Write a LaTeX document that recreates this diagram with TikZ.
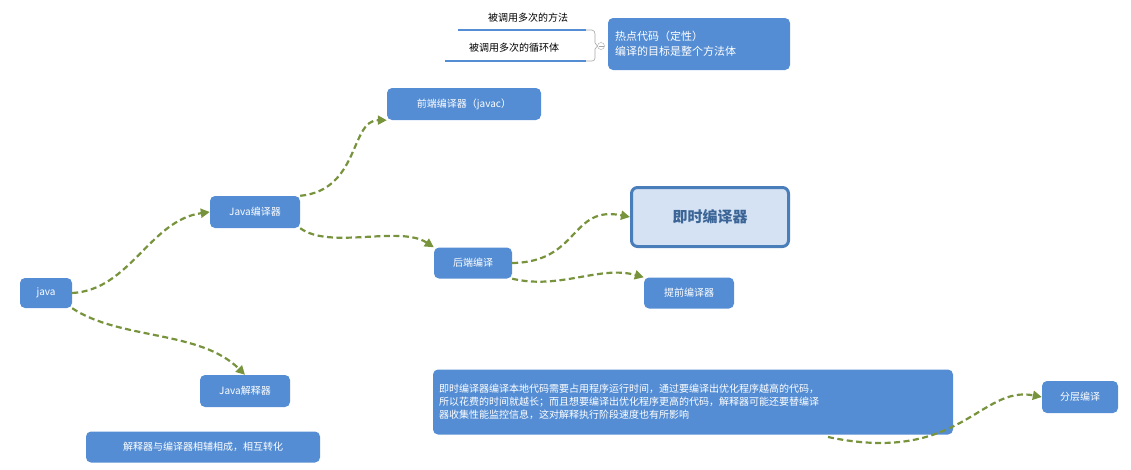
\documentclass[tikz,border=0pt]{standalone}
\usepackage{fontspec}
\setmainfont{Noto Sans CJK SC}
\usetikzlibrary{arrows.meta}
\definecolor{bbox}{HTML}{548DD4}
\definecolor{olive}{HTML}{77933C}
\definecolor{dk}{HTML}{4A7EBB}
\tikzset{
 box/.style={fill=bbox,rounded corners=5pt,text=white,font=\fontsize{10}{13}\selectfont,inner xsep=6pt,anchor=center},
 link/.style={olive,line width=2.2pt,dash pattern=on 6pt off 3.5pt,-{Triangle[length=9pt,width=9pt]}},
 lbl/.style={font=\fontsize{10}{12}\selectfont}
}
\begin{document}
\begin{tikzpicture}[x=1pt,y=-1pt]
\useasboundingbox (0,0) rectangle (1131,469);
\node[box,minimum width=52pt,minimum height=30pt] (java) at (46,293) {java};
\node[box,minimum width=90pt,minimum height=32pt] (jc) at (255,212) {Java编译器};
\node[box,minimum width=90pt,minimum height=32pt] (ji) at (245,391) {Java解释器};
\node[box,minimum width=154pt,minimum height=32pt] (fe) at (464,104) {前端编译器（javac）};
\node[box,minimum width=78pt,minimum height=31pt] (be) at (473,263) {后端编译};
\node[fill=bbox!25,draw=dk,line width=3pt,rounded corners=6pt,text=dk!80!black,font=\fontsize{15}{18}\selectfont\bfseries,minimum width=157pt,minimum height=59pt] (jit) at (710,217) {即时编译器};
\node[box,minimum width=90pt,minimum height=31pt] (aot) at (689,293) {提前编译器};
\node[box,minimum width=76pt,minimum height=32pt] (tier) at (1080,397) {分层编译};
\node[box,minimum width=520pt,minimum height=65pt,align=left,text width=508pt] (txt) at (693,402) {即时编译器编译本地代码需要占用程序运行时间，通过要编译出优化程序越高的代码，\\所以花费的时间就越长；而且想要编译出优化程序更高的代码，解释器可能还要替编译\\器收集性能监控信息，这对解释执行阶段速度也有所影响};
\node[box,minimum width=234pt,minimum height=31pt] (mix) at (203,447) {解释器与编译器相辅相成，相互转化};
\node[box,minimum width=182pt,minimum height=52pt,align=left,font=\fontsize{11}{15}\selectfont,text width=168pt] (hot) at (699,44) {热点代码（定性）\\编译的目标是整个方法体};
\node[lbl] (l1) at (528,18) {被调用多次的方法};
\node[lbl] (l2) at (514,48) {被调用多次的循环体};
\coordinate (u1a) at (458,30); \coordinate (u1b) at (586,30);
\coordinate (u2a) at (445,61); \coordinate (u2b) at (586,61);
\draw[bbox,line width=2pt] (u1a) -- (u1b);
\draw[bbox,line width=2pt] (u2a) -- (u2b);
\node[circle,draw=gray!70,inner sep=0pt,minimum size=7pt] (c) at (601,46) {};
\draw[gray!70,line width=0.5pt] (598.5,46) -- (603.5,46);
\draw[gray!70,line width=0.6pt] (u1b) -- (592,30) to[out=0,in=90] (595,34) -- (595,43) -- (597.5,46) -- (595,49) -- (595,58) to[out=-90,in=0] (592,61) -- (u2b);
\draw[link] (java.east) .. controls (130,290) and (150,220) .. (jc.west);
\draw[link] (java.south east) .. controls (120,340) and (200,330) .. (ji.north);
\draw[link] (jc.north east) .. controls (360,190) and (350,120) .. (fe.south west);
\draw[link] (jc.south east) .. controls (330,250) and (400,225) .. (be.north west);
\draw[link] (be.east) .. controls (580,262) and (570,205) .. (jit.west);
\draw[link] (be.south east) .. controls (560,290) and (600,265) .. (aot.north west);
\draw[link] (828,437) .. controls (960,465) and (980,385) .. (tier.west);
\end{tikzpicture}
\end{document}
